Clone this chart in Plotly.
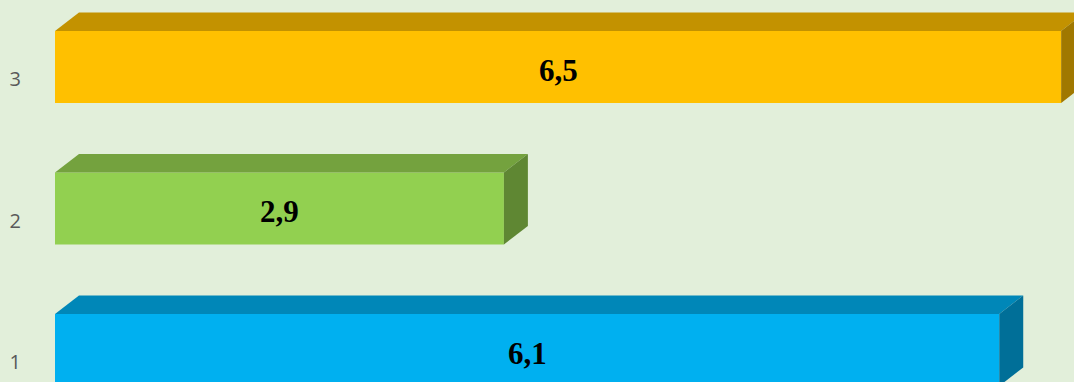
import plotly.graph_objects as go

# Chart data
categories = [1, 2, 3]
values = [6.1, 2.9, 6.5]
front_colors = ["#00B0F0", "#92D050", "#FFC000"]
top_colors = ["#0087B8", "#74A23E", "#C39200"]
side_colors = ["#006F98", "#5F8733", "#A07800"]
tick_labels = ["1", "2", "3"]

# Geometry of the pseudo-3D boxes (data units)
bar_width = 0.509
depth_x = 0.155
depth_y = 0.131

x_range = [0, 6.583]
y_range = [0.774, 3.4735]

fig = go.Figure()

# front faces
fig.add_trace(go.Bar(
    y=categories,
    x=values,
    orientation="h",
    width=bar_width,
    marker=dict(color=front_colors, line=dict(width=0)),
    hoverinfo="skip",
    showlegend=False,
))

# top and right-side faces for depth
for c, v, tc, sc in zip(categories, values, top_colors, side_colors):
    top = c + bar_width / 2
    bot = c - bar_width / 2
    fig.add_trace(go.Scatter(
        x=[0, v, v + depth_x, depth_x, 0],
        y=[top, top, top + depth_y, top + depth_y, top],
        fill="toself", fillcolor=tc, mode="lines", line=dict(width=0),
        hoverinfo="skip", showlegend=False,
    ))
    fig.add_trace(go.Scatter(
        x=[v, v, v + depth_x, v + depth_x, v],
        y=[bot, top, top + depth_y, bot + depth_y, bot],
        fill="toself", fillcolor=sc, mode="lines", line=dict(width=0),
        hoverinfo="skip", showlegend=False,
    ))

# value labels centred on each front face
for c, v in zip(categories, values):
    fig.add_annotation(
        x=v / 2, y=c, xref="x", yref="y",
        text="<b>" + f"{v:.1f}".replace(".", ",") + "</b>",
        showarrow=False, yshift=-3,
        font=dict(family="Liberation Serif", size=31, color="black"),
    )

fig.update_layout(
    width=1074,
    height=382,
    margin=dict(l=55, r=0, t=0, b=0),
    paper_bgcolor="#E2EFDA",
    plot_bgcolor="#E2EFDA",
    barmode="overlay",
    xaxis=dict(range=x_range, visible=False, fixedrange=True),
    yaxis=dict(
        range=y_range,
        tickvals=categories,
        ticktext=tick_labels,
        showgrid=False,
        zeroline=False,
        showline=False,
        ticks="",
        ticklabelstandoff=33,
        ticklabelshift=12,
        tickfont=dict(family="Open Sans", size=20, color="#595959"),
        fixedrange=True,
    ),
)

fig.write_html("out.html")
